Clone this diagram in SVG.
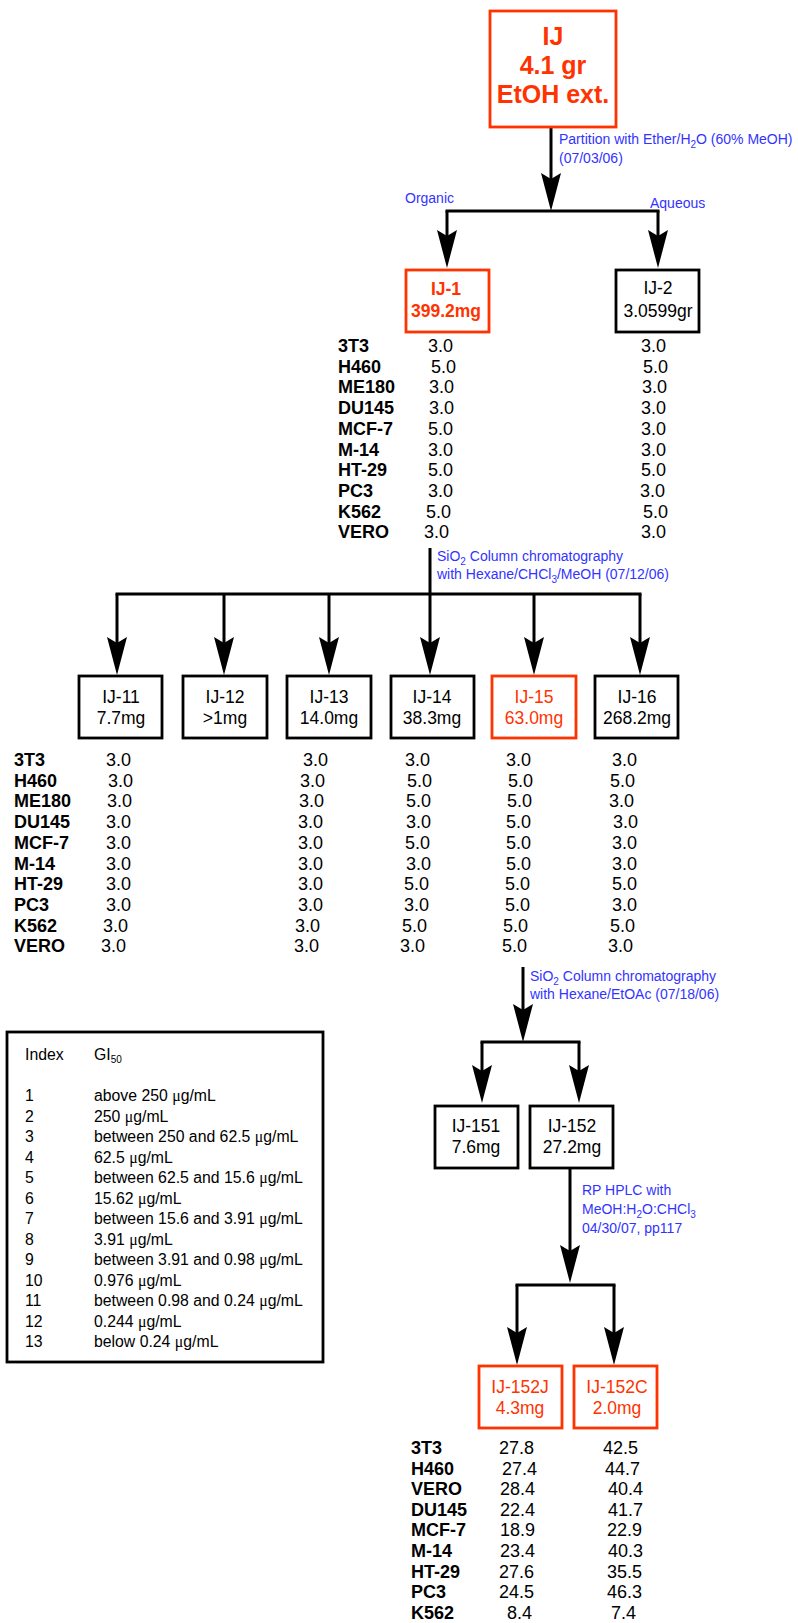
<svg xmlns="http://www.w3.org/2000/svg" width="798" height="1623" viewBox="0 0 798 1623">
<style>
text{font-family:"Liberation Sans",Arial,sans-serif;fill:#000}
.bx{fill:#fff;stroke:#000;stroke-width:2.8}
.rbx{fill:#fff;stroke:#ff3300;stroke-width:2.8}
.bt{font-size:17.5px;text-anchor:middle}
.red{fill:#ff3300}
.bold{font-weight:bold}
.lab{font-weight:bold;font-size:18px}
.val{font-size:18px}
.note{fill:#3333ff;font-size:14px}
.leg{font-size:15.8px}
.mu{font-family:"Liberation Serif","Times New Roman",serif}
.ln{fill:none;stroke:#000;stroke-width:3}
.hl{fill:none;stroke:#000;stroke-width:3;stroke-linecap:square}
</style>
<defs>
<marker id="ah" markerUnits="userSpaceOnUse" markerWidth="40" markerHeight="22" viewBox="0 -11 40 22" refX="20" refY="0" orient="auto">
<path d="M0,-10 L38,0 L0,10 L6,0 Z" fill="#000"/>
</marker>
</defs>

<g id="connectors">
<path class="ln" d="M551,127 V193" marker-end="url(#ah)"/>
<path class="hl" d="M447,211 H658"/>
<path class="ln" d="M447,211 V250" marker-end="url(#ah)"/>
<path class="ln" d="M658,211 V250" marker-end="url(#ah)"/>
<path class="ln" d="M430,548 V657" marker-end="url(#ah)"/>
<path class="hl" d="M117,594 H640"/>
<path class="ln" d="M117,594 V657" marker-end="url(#ah)"/>
<path class="ln" d="M224,594 V657" marker-end="url(#ah)"/>
<path class="ln" d="M329,594 V657" marker-end="url(#ah)"/>
<path class="ln" d="M534,594 V657" marker-end="url(#ah)"/>
<path class="ln" d="M640,594 V657" marker-end="url(#ah)"/>
<path class="ln" d="M523,967 V1024" marker-end="url(#ah)"/>
<path class="hl" d="M482,1042 H579"/>
<path class="ln" d="M482,1042 V1085" marker-end="url(#ah)"/>
<path class="ln" d="M579,1042 V1085" marker-end="url(#ah)"/>
<path class="ln" d="M570,1168 V1265" marker-end="url(#ah)"/>
<path class="hl" d="M517,1285 H614"/>
<path class="ln" d="M517,1285 V1347" marker-end="url(#ah)"/>
<path class="ln" d="M614,1285 V1347" marker-end="url(#ah)"/>
</g>

<g id="notes">
<text class="note" x="559" y="144">Partition with Ether/H<tspan font-size="10" dy="4">2</tspan><tspan dy="-4">O (60% MeOH)</tspan></text>
<text class="note" x="559" y="163">(07/03/06)</text>
<text class="note" x="405" y="203">Organic</text>
<text class="note" x="650" y="208">Aqueous</text>
<text class="note" x="437" y="561">SiO<tspan font-size="10" dy="4">2</tspan><tspan dy="-4"> Column chromatography</tspan></text>
<text class="note" x="437" y="579">with Hexane/CHCl<tspan font-size="10" dy="4">3</tspan><tspan dy="-4">/MeOH (07/12/06)</tspan></text>
<text class="note" x="530" y="981">SiO<tspan font-size="10" dy="4">2</tspan><tspan dy="-4"> Column chromatography</tspan></text>
<text class="note" x="530" y="999">with Hexane/EtOAc (07/18/06)</text>
<text class="note" x="582" y="1195">RP HPLC with</text>
<text class="note" x="582" y="1214">MeOH:H<tspan font-size="10" dy="4">2</tspan><tspan dy="-4">O:CHCl</tspan><tspan font-size="10" dy="4">3</tspan></text>
<text class="note" x="582" y="1233">04/30/07, pp117</text>
</g>

<g id="IJ">
<rect class="rbx" x="490" y="11" width="126" height="116"/>
<text class="red bold" font-size="25" text-anchor="middle" x="553" y="45">IJ</text>
<text class="red bold" font-size="25" text-anchor="middle" x="553" y="74">4.1 gr</text>
<text class="red bold" font-size="25" text-anchor="middle" x="553" y="103">EtOH ext.</text>
</g>

<g id="IJ-1">
<rect class="rbx" x="406" y="270" width="83" height="62"/>
<text class="bt red bold" x="446" y="295">IJ-1</text>
<text class="bt red bold" x="446" y="317">399.2mg</text>
</g>
<g id="IJ-2">
<rect class="bx" x="616" y="270" width="83" height="62"/>
<text class="bt" x="658" y="294">IJ-2</text>
<text class="bt" x="658" y="317">3.0599gr</text>
</g>

<g id="table1">
<text class="lab" x="338" y="352">3T3</text>
<text class="lab" x="338" y="372.7">H460</text>
<text class="lab" x="338" y="393.4">ME180</text>
<text class="lab" x="338" y="414.1">DU145</text>
<text class="lab" x="338" y="434.8">MCF-7</text>
<text class="lab" x="338" y="455.5">M-14</text>
<text class="lab" x="338" y="476.2">HT-29</text>
<text class="lab" x="338" y="496.9">PC3</text>
<text class="lab" x="338" y="517.6">K562</text>
<text class="lab" x="338" y="538.3">VERO</text>
<text class="val" x="428" y="352">3.0</text>
<text class="val" x="431" y="372.7">5.0</text>
<text class="val" x="429" y="393.4">3.0</text>
<text class="val" x="429" y="414.1">3.0</text>
<text class="val" x="428" y="434.8">5.0</text>
<text class="val" x="428" y="455.5">3.0</text>
<text class="val" x="428" y="476.2">5.0</text>
<text class="val" x="428" y="496.9">3.0</text>
<text class="val" x="426" y="517.6">5.0</text>
<text class="val" x="424" y="538.3">3.0</text>
<text class="val" x="641" y="352">3.0</text>
<text class="val" x="643" y="372.7">5.0</text>
<text class="val" x="642" y="393.4">3.0</text>
<text class="val" x="641" y="414.1">3.0</text>
<text class="val" x="641" y="434.8">3.0</text>
<text class="val" x="641" y="455.5">3.0</text>
<text class="val" x="641" y="476.2">5.0</text>
<text class="val" x="640" y="496.9">3.0</text>
<text class="val" x="643" y="517.6">5.0</text>
<text class="val" x="641" y="538.3">3.0</text>
</g>

<g id="IJ-11">
<rect class="bx" x="79" y="676" width="83" height="62"/>
<text class="bt" x="121" y="703">IJ-11</text>
<text class="bt" x="121" y="723.5">7.7mg</text>
</g>
<g id="IJ-12">
<rect class="bx" x="183" y="676" width="84" height="62"/>
<text class="bt" x="225" y="703">IJ-12</text>
<text class="bt" x="225" y="723.5">&gt;1mg</text>
</g>
<g id="IJ-13">
<rect class="bx" x="287" y="676" width="84" height="62"/>
<text class="bt" x="329" y="703">IJ-13</text>
<text class="bt" x="329" y="723.5">14.0mg</text>
</g>
<g id="IJ-14">
<rect class="bx" x="391" y="676" width="83" height="62"/>
<text class="bt" x="432" y="703">IJ-14</text>
<text class="bt" x="432" y="723.5">38.3mg</text>
</g>
<g id="IJ-15">
<rect class="rbx" x="492" y="676" width="84" height="62"/>
<text class="bt red" x="534" y="703">IJ-15</text>
<text class="bt red" x="534" y="723.5">63.0mg</text>
</g>
<g id="IJ-16">
<rect class="bx" x="595" y="676" width="83" height="62"/>
<text class="bt" x="637" y="703">IJ-16</text>
<text class="bt" x="637" y="723.5">268.2mg</text>
</g>

<g id="table2">
<text class="lab" x="14" y="766">3T3</text>
<text class="lab" x="14" y="786.7">H460</text>
<text class="lab" x="14" y="807.4">ME180</text>
<text class="lab" x="14" y="828.1">DU145</text>
<text class="lab" x="14" y="848.8">MCF-7</text>
<text class="lab" x="14" y="869.5">M-14</text>
<text class="lab" x="14" y="890.2">HT-29</text>
<text class="lab" x="14" y="910.9">PC3</text>
<text class="lab" x="14" y="931.6">K562</text>
<text class="lab" x="14" y="952.3">VERO</text>
<text class="val" x="106" y="766">3.0</text>
<text class="val" x="108" y="786.7">3.0</text>
<text class="val" x="107" y="807.4">3.0</text>
<text class="val" x="106" y="828.1">3.0</text>
<text class="val" x="106" y="848.8">3.0</text>
<text class="val" x="106" y="869.5">3.0</text>
<text class="val" x="106" y="890.2">3.0</text>
<text class="val" x="106" y="910.9">3.0</text>
<text class="val" x="103" y="931.6">3.0</text>
<text class="val" x="101" y="952.3">3.0</text>
<text class="val" x="303" y="766">3.0</text>
<text class="val" x="300" y="786.7">3.0</text>
<text class="val" x="299" y="807.4">3.0</text>
<text class="val" x="298" y="828.1">3.0</text>
<text class="val" x="298" y="848.8">3.0</text>
<text class="val" x="298" y="869.5">3.0</text>
<text class="val" x="298" y="890.2">3.0</text>
<text class="val" x="298" y="910.9">3.0</text>
<text class="val" x="295" y="931.6">3.0</text>
<text class="val" x="294" y="952.3">3.0</text>
<text class="val" x="405" y="766">3.0</text>
<text class="val" x="407" y="786.7">5.0</text>
<text class="val" x="406" y="807.4">5.0</text>
<text class="val" x="406" y="828.1">3.0</text>
<text class="val" x="405" y="848.8">5.0</text>
<text class="val" x="406" y="869.5">3.0</text>
<text class="val" x="404" y="890.2">5.0</text>
<text class="val" x="404" y="910.9">3.0</text>
<text class="val" x="402" y="931.6">5.0</text>
<text class="val" x="400" y="952.3">3.0</text>
<text class="val" x="506" y="766">3.0</text>
<text class="val" x="508" y="786.7">5.0</text>
<text class="val" x="507" y="807.4">5.0</text>
<text class="val" x="506" y="828.1">5.0</text>
<text class="val" x="506" y="848.8">5.0</text>
<text class="val" x="506" y="869.5">5.0</text>
<text class="val" x="505" y="890.2">5.0</text>
<text class="val" x="505" y="910.9">5.0</text>
<text class="val" x="503" y="931.6">5.0</text>
<text class="val" x="502" y="952.3">5.0</text>
<text class="val" x="612" y="766">3.0</text>
<text class="val" x="610" y="786.7">5.0</text>
<text class="val" x="609" y="807.4">3.0</text>
<text class="val" x="613" y="828.1">3.0</text>
<text class="val" x="612" y="848.8">3.0</text>
<text class="val" x="612" y="869.5">3.0</text>
<text class="val" x="612" y="890.2">5.0</text>
<text class="val" x="612" y="910.9">3.0</text>
<text class="val" x="610" y="931.6">5.0</text>
<text class="val" x="608" y="952.3">3.0</text>
</g>

<g id="IJ-151">
<rect class="bx" x="435" y="1106" width="83" height="62"/>
<text class="bt" x="476" y="1132">IJ-151</text>
<text class="bt" x="476" y="1153">7.6mg</text>
</g>
<g id="IJ-152">
<rect class="bx" x="530" y="1106" width="83" height="62"/>
<text class="bt" x="572" y="1132">IJ-152</text>
<text class="bt" x="572" y="1153">27.2mg</text>
</g>

<g id="IJ-152J">
<rect class="rbx" x="479" y="1366" width="83" height="62"/>
<text class="bt red" x="520" y="1393">IJ-152J</text>
<text class="bt red" x="520" y="1414">4.3mg</text>
</g>
<g id="IJ-152C">
<rect class="rbx" x="574" y="1366" width="83" height="62"/>
<text class="bt red" x="617" y="1393">IJ-152C</text>
<text class="bt red" x="617" y="1414">2.0mg</text>
</g>

<g id="table3">
<text class="lab" x="411" y="1454">3T3</text>
<text class="lab" x="411" y="1474.6">H460</text>
<text class="lab" x="411" y="1495.2">VERO</text>
<text class="lab" x="411" y="1515.8">DU145</text>
<text class="lab" x="411" y="1536.4">MCF-7</text>
<text class="lab" x="411" y="1557">M-14</text>
<text class="lab" x="411" y="1577.6">HT-29</text>
<text class="lab" x="411" y="1598.2">PC3</text>
<text class="lab" x="411" y="1618.8">K562</text>
<text class="val" x="499" y="1454">27.8</text>
<text class="val" x="502" y="1474.6">27.4</text>
<text class="val" x="500" y="1495.2">28.4</text>
<text class="val" x="500" y="1515.8">22.4</text>
<text class="val" x="500" y="1536.4">18.9</text>
<text class="val" x="500" y="1557">23.4</text>
<text class="val" x="499" y="1577.6">27.6</text>
<text class="val" x="499" y="1598.2">24.5</text>
<text class="val" x="507" y="1618.8">8.4</text>
<text class="val" x="603" y="1454">42.5</text>
<text class="val" x="605" y="1474.6">44.7</text>
<text class="val" x="608" y="1495.2">40.4</text>
<text class="val" x="608" y="1515.8">41.7</text>
<text class="val" x="607" y="1536.4">22.9</text>
<text class="val" x="608" y="1557">40.3</text>
<text class="val" x="607" y="1577.6">35.5</text>
<text class="val" x="607" y="1598.2">46.3</text>
<text class="val" x="611" y="1618.8">7.4</text>
</g>

<g id="legend">
<rect class="bx" x="7" y="1032" width="316" height="330"/>
<text class="leg" x="25" y="1060">Index</text>
<text class="leg" x="94" y="1060">GI<tspan font-size="10" dy="3">50</tspan></text>
<text class="leg" x="25" y="1101">1</text><text class="leg" x="94" y="1101">above 250 <tspan class="mu">μ</tspan>g/mL</text>
<text class="leg" x="25" y="1121.5">2</text><text class="leg" x="94" y="1121.5">250 <tspan class="mu">μ</tspan>g/mL</text>
<text class="leg" x="25" y="1142">3</text><text class="leg" x="94" y="1142">between 250 and 62.5 <tspan class="mu">μ</tspan>g/mL</text>
<text class="leg" x="25" y="1162.5">4</text><text class="leg" x="94" y="1162.5">62.5 <tspan class="mu">μ</tspan>g/mL</text>
<text class="leg" x="25" y="1183">5</text><text class="leg" x="94" y="1183">between 62.5 and 15.6 <tspan class="mu">μ</tspan>g/mL</text>
<text class="leg" x="25" y="1203.5">6</text><text class="leg" x="94" y="1203.5">15.62 <tspan class="mu">μ</tspan>g/mL</text>
<text class="leg" x="25" y="1224">7</text><text class="leg" x="94" y="1224">between 15.6 and 3.91 <tspan class="mu">μ</tspan>g/mL</text>
<text class="leg" x="25" y="1244.5">8</text><text class="leg" x="94" y="1244.5">3.91 <tspan class="mu">μ</tspan>g/mL</text>
<text class="leg" x="25" y="1265">9</text><text class="leg" x="94" y="1265">between 3.91 and 0.98 <tspan class="mu">μ</tspan>g/mL</text>
<text class="leg" x="25" y="1285.5">10</text><text class="leg" x="94" y="1285.5">0.976 <tspan class="mu">μ</tspan>g/mL</text>
<text class="leg" x="25" y="1306">11</text><text class="leg" x="94" y="1306">between 0.98 and 0.24 <tspan class="mu">μ</tspan>g/mL</text>
<text class="leg" x="25" y="1326.5">12</text><text class="leg" x="94" y="1326.5">0.244 <tspan class="mu">μ</tspan>g/mL</text>
<text class="leg" x="25" y="1347">13</text><text class="leg" x="94" y="1347">below 0.24 <tspan class="mu">μ</tspan>g/mL</text>
</g>
</svg>
